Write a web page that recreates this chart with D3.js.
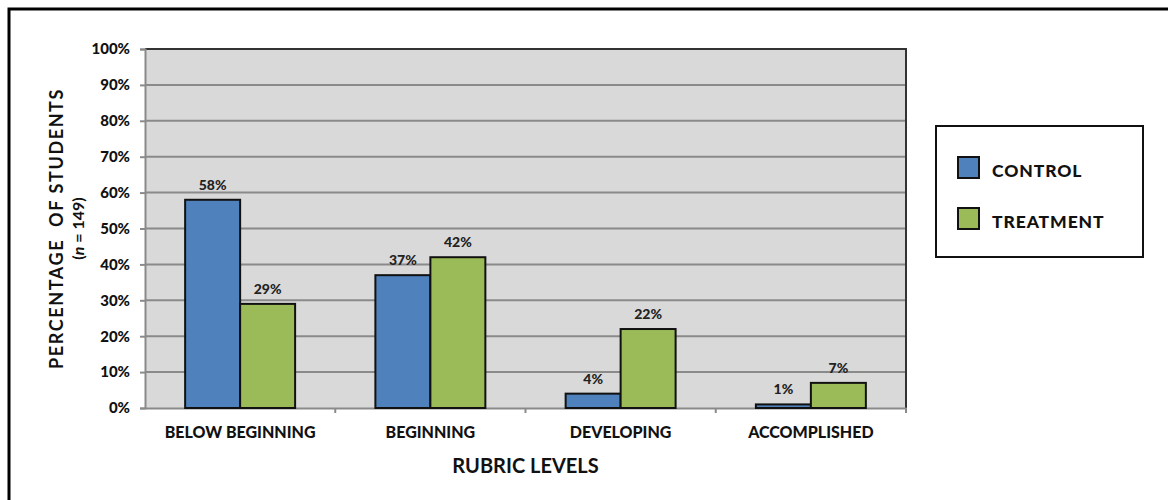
<!DOCTYPE html>
<html>
<head>
<meta charset="utf-8">
<script src="https://cdn.jsdelivr.net/npm/d3@7"></script>
<style>
  body { margin: 0; background: #fff; }
  svg { display: block; font-family: Lato, "Open Sans", sans-serif; }
  svg text { font-family: Lato, "Open Sans", sans-serif; }
</style>
</head>
<body>
<div id="chart"></div>
<script>
// data
const categories = ['BELOW BEGINNING', 'BEGINNING', 'DEVELOPING', 'ACCOMPLISHED'];
const seriesNames = ['CONTROL', 'TREATMENT'];
const controlValues = [58, 37, 4, 1];
const treatmentValues = [29, 42, 22, 7];
const yTicks = [0, 10, 20, 30, 40, 50, 60, 70, 80, 90, 100];

const width = 1168, height = 500;
const margin = { top: 49, right: 262, bottom: 92, left: 145 };
const innerW = width - margin.left - margin.right;
const innerH = height - margin.top - margin.bottom;

const colors = ['#4f81bd', '#9bbb59'];
const seriesValues = [controlValues, treatmentValues];

const svg = d3.select('#chart').append('svg')
  .attr('width', width)
  .attr('height', height);

// outer frame
svg.append('rect')
  .attr('x', 9).attr('y', 9)
  .attr('width', width + 10).attr('height', height + 10)
  .attr('fill', 'none')
  .attr('stroke', '#000')
  .attr('stroke-width', 3);

const g = svg.append('g')
  .attr('transform', `translate(${margin.left},${margin.top})`);

const x0 = d3.scaleBand().domain(categories).range([0, innerW]).padding(0);
const x1 = d3.scaleBand().domain(seriesNames).range([0, x0.bandwidth()])
  .paddingInner(0).paddingOuter(0.73);
const y = d3.scaleLinear().domain([0, 100]).range([innerH, 0]);

// plot background
g.append('rect')
  .attr('width', innerW).attr('height', innerH)
  .attr('fill', '#d9d9d9');

// grid lines
g.selectAll('.grid')
  .data(yTicks.filter(d => d > 0 && d < 100))
  .enter().append('line')
  .attr('x1', 0).attr('x2', innerW)
  .attr('y1', d => y(d)).attr('y2', d => y(d))
  .attr('stroke', '#8a8a8a')
  .attr('stroke-width', 2);

// top and right border of the plot
g.append('path')
  .attr('d', `M0,${y(100)}H${innerW}V${innerH}`)
  .attr('fill', 'none')
  .attr('stroke', '#333')
  .attr('stroke-width', 2);

// y axis
const yAxis = g.append('g')
  .call(d3.axisLeft(y).tickValues(yTicks).tickSize(5).tickPadding(10).tickFormat(d => d + '%'));
yAxis.attr('font-family', null);
yAxis.select('.domain').attr('stroke', '#8a8a8a').attr('stroke-width', 2);
yAxis.selectAll('.tick line').attr('stroke', '#8a8a8a').attr('stroke-width', 2);
yAxis.selectAll('.tick text')
  .attr('fill', '#111')
  .style('font-size', '15px')
  .style('font-weight', 900);

// x axis: ticks at category boundaries
const xAxis = g.append('g')
  .attr('transform', `translate(0,${innerH})`)
  .call(d3.axisBottom(x0).tickSize(0).tickPadding(19));
xAxis.attr('font-family', null);
xAxis.select('.domain').attr('stroke', '#8a8a8a').attr('stroke-width', 2);
xAxis.selectAll('.tick text')
  .attr('fill', '#111')
  .style('font-size', '16px')
  .style('font-weight', 900);
xAxis.selectAll('.bound')
  .data(categories.slice(1).concat(['end']))
  .enter().append('line')
  .attr('x1', (d, i) => x0.step() * (i + 1))
  .attr('x2', (d, i) => x0.step() * (i + 1))
  .attr('y1', 0).attr('y2', 5)
  .attr('stroke', '#8a8a8a')
  .attr('stroke-width', 2);

// bars
const groups = g.selectAll('.cat')
  .data(categories)
  .enter().append('g')
  .attr('transform', d => `translate(${x0(d)},0)`);

groups.selectAll('rect')
  .data((d, i) => seriesNames.map((s, j) => ({ s: s, v: seriesValues[j][i], j: j })))
  .enter().append('rect')
  .attr('x', d => x1(d.s))
  .attr('y', d => y(d.v))
  .attr('width', x1.bandwidth())
  .attr('height', d => innerH - y(d.v))
  .attr('fill', d => colors[d.j])
  .attr('stroke', '#111')
  .attr('stroke-width', 2);

groups.selectAll('.val')
  .data((d, i) => seriesNames.map((s, j) => ({ s: s, v: seriesValues[j][i] })))
  .enter().append('text')
  .attr('x', d => x1(d.s) + x1.bandwidth() / 2)
  .attr('y', d => y(d.v) - 10)
  .attr('text-anchor', 'middle')
  .attr('fill', '#222')
  .style('font-size', '14px')
  .style('font-weight', 900)
  .text(d => d.v + '%');

// axis titles
svg.append('text')
  .attr('transform', `translate(63,${margin.top + innerH / 2}) rotate(-90)`)
  .attr('text-anchor', 'middle')
  .attr('fill', '#111')
  .attr('xml:space', 'preserve')
  .style('font-size', '18px')
  .style('font-weight', 700)
  .style('letter-spacing', '1.6px')
  .text('PERCENTAGE  OF STUDENTS');

const ySub = svg.append('text')
  .attr('transform', `translate(84,${margin.top + innerH / 2}) rotate(-90)`)
  .attr('text-anchor', 'middle')
  .attr('fill', '#111')
  .style('font-size', '16px')
  .style('font-weight', 700);
ySub.append('tspan').text('(');
ySub.append('tspan').style('font-style', 'italic').text('n');
ySub.append('tspan').text(' = 149)');

svg.append('text')
  .attr('x', margin.left + innerW / 2)
  .attr('y', 473)
  .attr('text-anchor', 'middle')
  .attr('fill', '#111')
  .style('font-size', '20px')
  .style('font-weight', 700)
  .text('RUBRIC LEVELS');

// legend
const legend = svg.append('g').attr('transform', 'translate(936,126)');
legend.append('rect')
  .attr('width', 207).attr('height', 131)
  .attr('fill', '#fff')
  .attr('stroke', '#111')
  .attr('stroke-width', 2);

const items = legend.selectAll('.item')
  .data(seriesNames)
  .enter().append('g')
  .attr('transform', (d, i) => `translate(22,${31 + i * 51})`);
items.append('rect')
  .attr('width', 21).attr('height', 21)
  .attr('fill', (d, i) => colors[i])
  .attr('stroke', '#111')
  .attr('stroke-width', 2);
items.append('text')
  .attr('x', 34).attr('y', 20)
  .attr('fill', '#111')
  .style('font-size', '17.5px')
  .style('font-weight', 900)
  .style('letter-spacing', '0.9px')
  .text(d => d);
</script>
</body>
</html>
